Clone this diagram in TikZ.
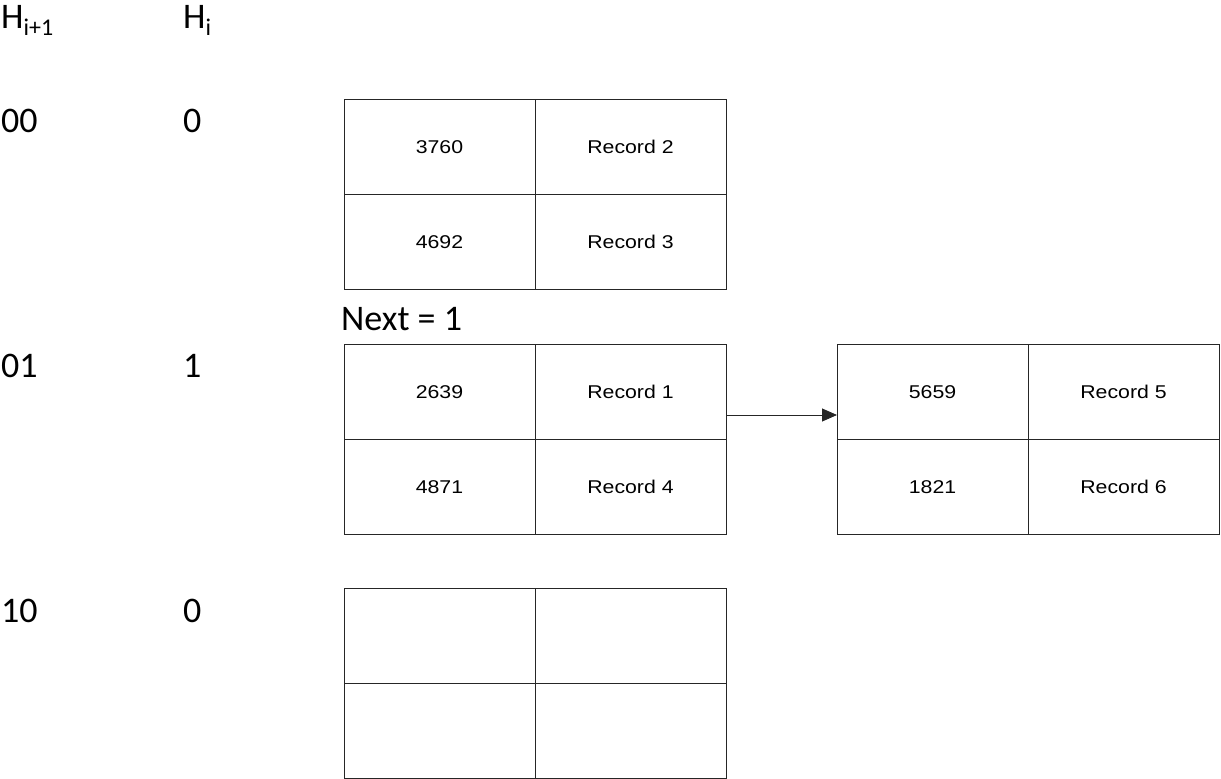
\documentclass[tikz,border=0pt]{standalone}
\usepackage{fontspec}
\setmainfont{Carlito}
\newfontfamily\cellfont[FakeStretch=1.15]{Liberation Sans}
\usepackage{tikz}
\usetikzlibrary{arrows.meta,positioning}
\newcommand{\lowsub}[1]{\raisebox{-7pt}{\fontsize{24}{26}\selectfont #1}}

\begin{document}
\begin{tikzpicture}[x=1pt, y=-1pt,
  node distance=0pt,
  lbl/.style={font=\fontsize{36}{40}\selectfont, inner sep=0, anchor=base west},
  cell/.style={rectangle, draw=black!85, line width=0.9pt, minimum width=191pt, minimum height=95pt,
               inner sep=0, outer sep=0, text height=13pt, text depth=0pt,
               font=\cellfont\fontsize{18.5}{20}\selectfont},
  arr/.style={-{Triangle[length=15pt, width=13pt]}, line width=0.9pt, draw=black!85}]
\useasboundingbox (0,0) rectangle (1221,779);
% hash labels
\node[lbl] (hnext) at (1,28) {H\lowsub{i+1}};
\node[lbl] (hcur) at (183,28) {H\lowsub{i}};
\node[lbl] (k00) at (1,132) {00};
\node[lbl] (c00) at (183,132) {0};
\node[lbl] (k01) at (1,377) {01};
\node[lbl] (c01) at (183,377) {1};
\node[lbl] (k10) at (1,622) {10};
\node[lbl] (c10) at (183,622) {0};
% bucket 00
\node[cell, anchor=north west] (b0a) at (344,99) {3760};
\node[cell, right=of b0a] (b0b) {Record 2};
\node[cell, below=of b0a] (b0c) {4692};
\node[cell, right=of b0c] (b0d) {Record 3};
% bucket 01 and its overflow page
\node[lbl] (next) at (341,330) {Next = 1};
\node[cell, anchor=north west] (b1a) at (344,344) {2639};
\node[cell, right=of b1a] (b1b) {Record 1};
\node[cell, below=of b1a] (b1c) {4871};
\node[cell, right=of b1c] (b1d) {Record 4};
\node[cell, anchor=north west] (ova) at (837,344) {5659};
\node[cell, right=of ova] (ovb) {Record 5};
\node[cell, below=of ova] (ovc) {1821};
\node[cell, right=of ovc] (ovd) {Record 6};
\draw[arr] ([yshift=24pt]b1b.south east) -- ([yshift=24pt]ova.south west);
% bucket 10 (empty)
\node[cell, anchor=north west] (b2a) at (344,588) {};
\node[cell, right=of b2a] (b2b) {};
\node[cell, below=of b2a] (b2c) {};
\node[cell, right=of b2c] (b2d) {};
\end{tikzpicture}
\end{document}
